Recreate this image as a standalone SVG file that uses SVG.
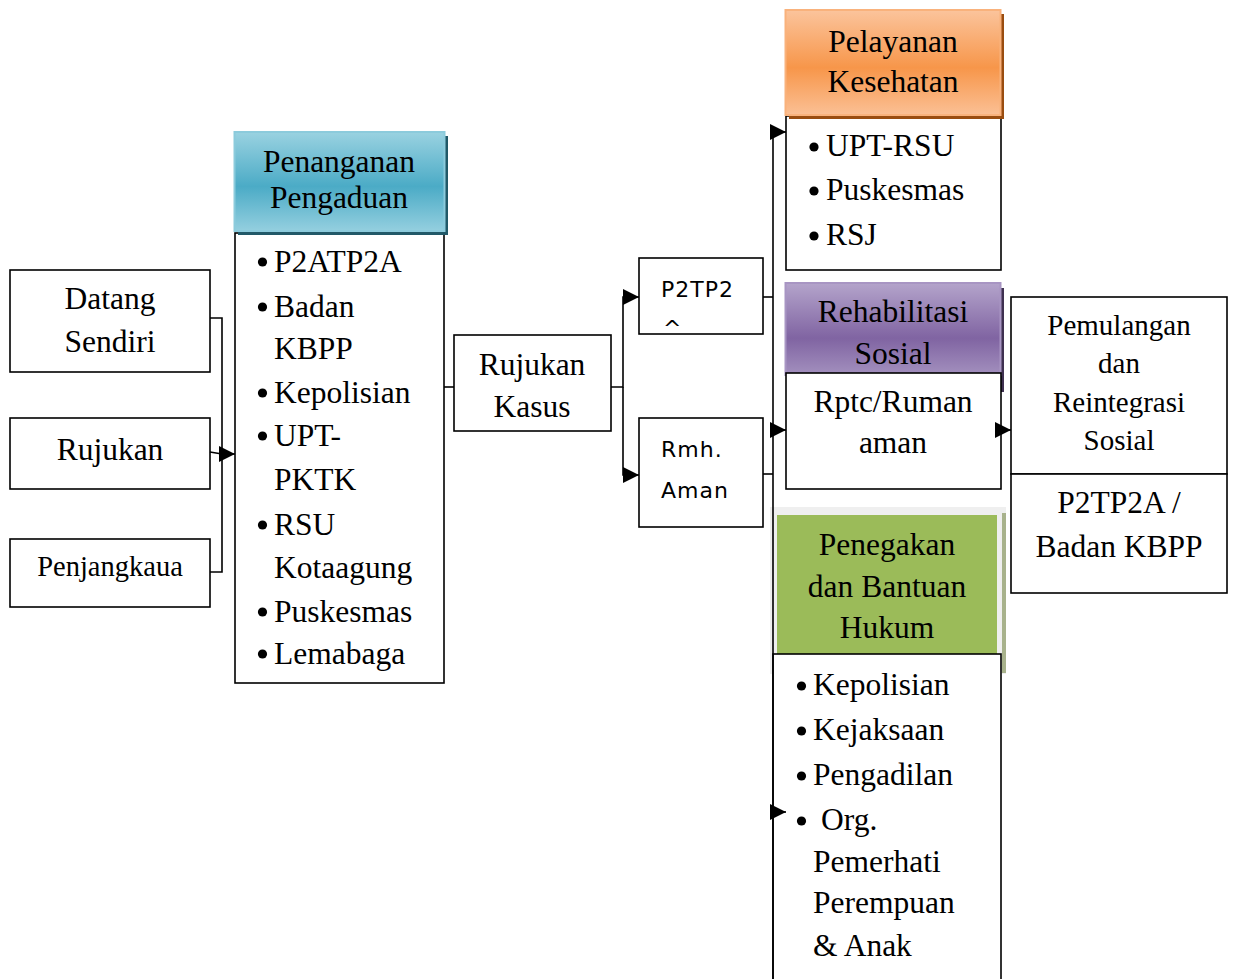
<svg xmlns="http://www.w3.org/2000/svg" width="1235" height="979" viewBox="0 0 1235 979">
<style>
.box{fill:#fff;stroke:#000;stroke-width:1.6}
.t{font-family:"Liberation Serif","Times New Roman",serif;font-size:31.5px;fill:#000}
.c{text-anchor:middle}
.s{font-family:"DejaVu Sans","Liberation Sans",sans-serif;font-size:22px;letter-spacing:1px;fill:#000}
.ln{fill:none;stroke:#000;stroke-width:1.6}
.b{fill:#000}
</style>
<defs>
<marker id="ah" viewBox="0 0 16 16" refX="16" refY="8" markerWidth="16" markerHeight="16" markerUnits="userSpaceOnUse" orient="auto">
<path d="M0,0 L16,8 L0,16 Z" fill="#000"/>
</marker>
<linearGradient id="gTeal" x1="0" y1="0" x2="0" y2="1">
<stop offset="0" stop-color="#9ad2e1"/><stop offset="0.55" stop-color="#4babc6"/><stop offset="1" stop-color="#94cfdf"/>
</linearGradient>
<linearGradient id="gOrange" x1="0" y1="0" x2="0" y2="1">
<stop offset="0" stop-color="#fbc49c"/><stop offset="0.55" stop-color="#f7964a"/><stop offset="1" stop-color="#fbc095"/>
</linearGradient>
<linearGradient id="gPurple" x1="0" y1="0" x2="0" y2="1">
<stop offset="0" stop-color="#b4a4cb"/><stop offset="0.6" stop-color="#8064a2"/><stop offset="1" stop-color="#a390be"/>
</linearGradient>
</defs>

<g id="datang">
<rect class="box" x="10" y="270" width="200" height="102"/>
<text class="t c" x="110" y="309">Datang</text>
<text class="t c" x="110" y="352">Sendiri</text>
</g>
<g id="rujukan">
<rect class="box" x="10" y="418" width="200" height="71"/>
<text class="t c" x="110" y="460">Rujukan</text>
</g>
<g id="penjangkaua">
<rect class="box" x="10" y="539" width="200" height="68"/>
<text class="t c" x="110" y="576" style="font-size:28.5px">Penjangkaua</text>
</g>

<g id="penanganan">
<rect class="box" x="235" y="233" width="209" height="450"/>
<rect x="238" y="136" width="210" height="99" fill="#215968"/>
<rect x="234.5" y="132" width="210" height="99" fill="url(#gTeal)" stroke="#8ccbdc" stroke-width="2"/>
<text class="t c" x="339" y="172">Penanganan</text>
<text class="t c" x="339" y="208">Pengaduan</text>
<circle class="b" cx="262.5" cy="262" r="4.6"/><text class="t" x="274" y="272">P2ATP2A</text>
<circle class="b" cx="262.5" cy="307" r="4.6"/><text class="t" x="274" y="317">Badan</text>
<text class="t" x="274" y="359">KBPP</text>
<circle class="b" cx="262.5" cy="393" r="4.6"/><text class="t" x="274" y="403">Kepolisian</text>
<circle class="b" cx="262.5" cy="436" r="4.6"/><text class="t" x="274" y="446">UPT-</text>
<text class="t" x="274" y="490">PKTK</text>
<circle class="b" cx="262.5" cy="525" r="4.6"/><text class="t" x="274" y="535">RSU</text>
<text class="t" x="274" y="578">Kotaagung</text>
<circle class="b" cx="262.5" cy="612" r="4.6"/><text class="t" x="274" y="622">Puskesmas</text>
<circle class="b" cx="262.5" cy="654" r="4.6"/><text class="t" x="274" y="664">Lemabaga</text>
</g>

<g id="rujukan-kasus">
<rect class="box" x="454" y="335" width="157" height="96"/>
<text class="t c" x="532" y="375">Rujukan</text>
<text class="t c" x="532" y="417">Kasus</text>
</g>

<g id="p2tp2">
<rect class="box" x="639" y="258" width="124" height="76"/>
<text class="s" x="661" y="297">P2TP2</text>
<text class="s" x="663" y="336">^</text>
</g>
<g id="rmh-aman">
<rect class="box" x="639" y="418" width="124" height="109"/>
<text class="s" x="661" y="457">Rmh.</text>
<text class="s" x="661" y="498">Aman</text>
</g>

<g id="pelayanan">
<rect class="box" x="786" y="116" width="215" height="154"/>
<rect x="789" y="14" width="215" height="105" fill="#9a4d10"/>
<rect x="785.5" y="10" width="215" height="105" fill="url(#gOrange)" stroke="#f9b27c" stroke-width="2"/>
<text class="t c" x="893" y="52">Pelayanan</text>
<text class="t c" x="893" y="92">Kesehatan</text>
<circle class="b" cx="814" cy="147" r="4.6"/><text class="t" x="826" y="156">UPT-RSU</text>
<circle class="b" cx="814" cy="191" r="4.6"/><text class="t" x="826" y="200">Puskesmas</text>
<circle class="b" cx="814" cy="236" r="4.6"/><text class="t" x="826" y="245">RSJ</text>
</g>

<g id="rehabilitasi">
<rect x="999" y="288" width="5" height="104" fill="#3f3151"/>
<rect x="785.5" y="283" width="215" height="92" fill="url(#gPurple)" stroke="#a895c3" stroke-width="2"/>
<rect class="box" x="786" y="373" width="215" height="116"/>
<text class="t c" x="893" y="322">Rehabilitasi</text>
<text class="t c" x="893" y="364">Sosial</text>
<text class="t c" x="893" y="412">Rptc/Ruman</text>
<text class="t c" x="893" y="453">aman</text>
</g>

<g id="pemulangan">
<rect class="box" x="1011" y="297" width="216" height="177"/>
<text class="t c" x="1119" y="335" style="font-size:29px">Pemulangan</text>
<text class="t c" x="1119" y="373" style="font-size:29px">dan</text>
<text class="t c" x="1119" y="412" style="font-size:29px">Reintegrasi</text>
<text class="t c" x="1119" y="450" style="font-size:29px">Sosial</text>
</g>
<g id="p2tp2a-kbpp">
<rect class="box" x="1011" y="474" width="216" height="119"/>
<text class="t c" x="1119" y="513">P2TP2A /</text>
<text class="t c" x="1119" y="557">Badan KBPP</text>
</g>

<g id="penegakan">
<rect x="770" y="507" width="236" height="167" fill="#efefef"/>
<rect x="1002" y="513" width="4" height="160" fill="#a8b28c"/>
<rect x="777" y="515" width="220" height="150" fill="#9bbb59"/>
<text class="t c" x="887" y="555">Penegakan</text>
<text class="t c" x="887" y="597">dan Bantuan</text>
<text class="t c" x="887" y="638">Hukum</text>
<rect class="box" x="773" y="654" width="228" height="340"/>
<circle class="b" cx="801.5" cy="686" r="4.6"/><text class="t" x="813" y="695">Kepolisian</text>
<circle class="b" cx="801.5" cy="731" r="4.6"/><text class="t" x="813" y="740">Kejaksaan</text>
<circle class="b" cx="801.5" cy="776" r="4.6"/><text class="t" x="813" y="785">Pengadilan</text>
<circle class="b" cx="801.5" cy="821" r="4.6"/><text class="t" x="821" y="830">Org.</text>
<text class="t" x="813" y="872">Pemerhati</text>
<text class="t" x="813" y="913">Perempuan</text>
<text class="t" x="813" y="956">&amp; Anak</text>
</g>

<g id="connectors">
<path class="ln" d="M210,318 H222 V572 H210"/>
<path class="ln" d="M210,452 L222,454 H235" marker-end="url(#ah)"/>
<path class="ln" d="M444,387 H454"/>
<path class="ln" d="M611,387 H623 V297 H639" marker-end="url(#ah)"/>
<path class="ln" d="M623,387 V475 H639" marker-end="url(#ah)"/>
<path class="ln" d="M763,297 H773"/>
<path class="ln" d="M763,474 H773"/>
<path class="ln" d="M773,979 V132 H786" marker-end="url(#ah)"/>
<path class="ln" d="M773,430 H786" marker-end="url(#ah)"/>
<path class="ln" d="M773,812 H786" marker-end="url(#ah)"/>
<path class="ln" d="M1001,430 H1011" marker-end="url(#ah)"/>
</g>
</svg>
